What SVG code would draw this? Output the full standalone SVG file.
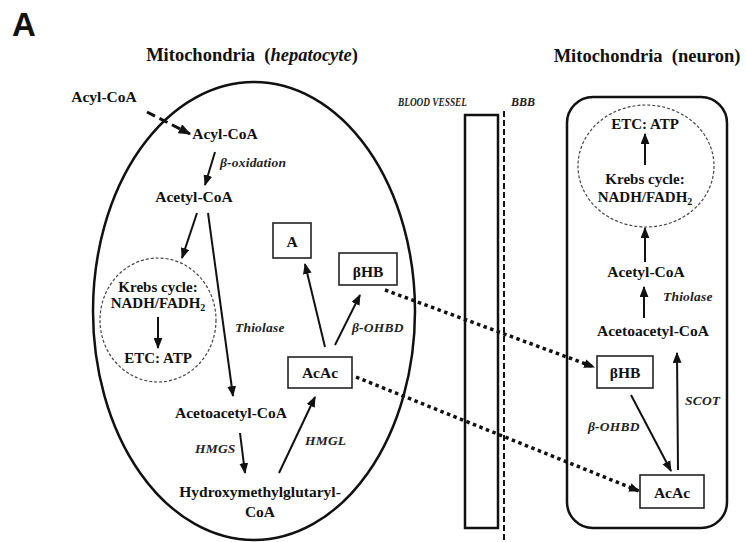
<svg xmlns="http://www.w3.org/2000/svg" width="746" height="542" viewBox="0 0 746 542">
<defs>
<style>
text{font-family:'Liberation Serif','Times New Roman',Times,'DejaVu Serif',serif}
.b{font-weight:bold;font-size:15.5px;fill:#111}
.k{font-weight:bold;font-size:15px;fill:#111}
.i{font-weight:bold;font-style:italic;font-size:13.5px;fill:#222;letter-spacing:0.2px}
.t{font-weight:bold;font-size:18.5px;fill:#111}
.c{text-anchor:middle}
.s{font-weight:bold;font-style:italic;font-size:11.5px;fill:#222}
.a{stroke:#111;stroke-width:2;fill:none;marker-end:url(#ah)}
.d{stroke:#111;stroke-width:3.5;fill:none;stroke-dasharray:3.5 3.5;marker-end:url(#ah)}
.box{fill:#fff;stroke:#222;stroke-width:1.6}
.dc{fill:none;stroke:#444;stroke-width:1.2;stroke-dasharray:3 2}
</style>
<marker id="ah" viewBox="0 0 10 8" refX="9" refY="4" markerWidth="11" markerHeight="9" markerUnits="userSpaceOnUse" orient="auto">
<path d="M0,0 L10,4 L0,8 Z" fill="#111"/>
</marker>
<marker id="ah2" viewBox="0 0 10 8" refX="9" refY="4" markerWidth="13" markerHeight="10" markerUnits="userSpaceOnUse" orient="auto">
<path d="M0,0 L10,4 L0,8 Z" fill="#111"/>
</marker>
</defs>
<rect width="746" height="542" fill="#fff"/>
<text x="12" y="36" style="font-family:'Liberation Sans',Arial,sans-serif" font-weight="bold" font-size="33" fill="#111">A</text>
<text class="t c" x="252" y="61">Mitochondria&#160;&#160;(<tspan font-style="italic">hepatocyte</tspan>)</text>
<text class="t c" x="647" y="62">Mitochondria&#160;&#160;(neuron)</text>

<g id="hepatocyte">
<ellipse cx="254" cy="311" rx="161" ry="229" fill="none" stroke="#111" stroke-width="2.5"/>
</g>
<g id="blood-vessel">
<rect x="465" y="115" width="33" height="413" fill="none" stroke="#111" stroke-width="2.5"/>
<text class="s" x="398" y="106" textLength="69" lengthAdjust="spacingAndGlyphs">BLOOD VESSEL</text>
</g>
<g id="bbb">
<line x1="504" y1="111" x2="504" y2="540" stroke="#111" stroke-width="2" stroke-dasharray="6 3"/>
<text class="s" x="511" y="106" textLength="24" lengthAdjust="spacingAndGlyphs">BBB</text>
</g>
<g id="neuron">
<rect x="567" y="97" width="160" height="431" rx="26" ry="26" fill="none" stroke="#111" stroke-width="2.5"/>
</g>

<g id="acyl-coa-out"><text class="b c" x="104" y="102">Acyl-CoA</text></g>
<g id="acyl-coa-in"><text class="b c" x="225" y="139">Acyl-CoA</text></g>
<g id="acetyl-coa-hep"><text class="b c" x="194" y="202">Acetyl-CoA</text></g>
<g id="krebs-hep">
<ellipse class="dc" cx="158" cy="320" rx="58" ry="62"/>
<text class="k c" x="158" y="292">Krebs cycle:</text>
<text class="k c" x="158" y="308">NADH/FADH<tspan font-size="10" dy="3">2</tspan></text>
<text class="k c" x="158" y="363">ETC: ATP</text>
</g>
<g id="a-box"><rect class="box" x="273" y="223" width="38" height="35"/><text class="b c" x="292" y="247">A</text></g>
<g id="bhb-hep"><rect class="box" x="339" y="253" width="58" height="32"/><text class="b c" x="368" y="277">βHB</text></g>
<g id="acac-hep"><rect class="box" x="288" y="357" width="64" height="31"/><text class="b c" x="320" y="378">AcAc</text></g>
<g id="acetoacetyl-hep"><text class="b c" x="231" y="418">Acetoacetyl-CoA</text></g>
<g id="hmg-coa"><text class="b c" x="260" y="497">Hydroxymethylglutaryl-</text><text class="b c" x="260" y="517">CoA</text></g>

<g id="krebs-neuron">
<ellipse class="dc" cx="646" cy="166" rx="68" ry="61"/>
<text class="k c" x="645" y="129">ETC: ATP</text>
<text class="k c" x="645" y="184">Krebs cycle:</text>
<text class="k c" x="645" y="202">NADH/FADH<tspan font-size="10" dy="3">2</tspan></text>
</g>
<g id="acetyl-coa-neuron"><text class="b c" x="646" y="277">Acetyl-CoA</text></g>
<g id="acetoacetyl-neuron"><text class="b c" x="653" y="336">Acetoacetyl-CoA</text></g>
<g id="bhb-neuron"><rect class="box" x="597" y="356" width="56" height="32"/><text class="b c" x="625" y="378">βHB</text></g>
<g id="acac-neuron"><rect class="box" x="640" y="475" width="64" height="33"/><text class="b c" x="672" y="498">AcAc</text></g>

<g id="connectors">
<line x1="147" y1="112" x2="190" y2="134" stroke="#111" stroke-width="3" stroke-dasharray="9 5" marker-end="url(#ah2)"/>
<line class="a" x1="215" y1="152" x2="205" y2="185"/>
<line class="a" x1="197" y1="213" x2="182" y2="258"/>
<line class="a" x1="208" y1="213" x2="233" y2="396"/>
<line class="a" x1="158" y1="317" x2="158" y2="348"/>
<line class="a" x1="240" y1="433" x2="245" y2="473"/>
<line class="a" x1="279" y1="473" x2="315" y2="397"/>
<line class="a" x1="325" y1="347" x2="305" y2="264"/>
<line class="a" x1="335" y1="345" x2="360" y2="295"/>
<line class="d" x1="385" y1="290" x2="594" y2="367"/>
<line class="d" x1="356" y1="377" x2="639" y2="491"/>
<line class="a" x1="631" y1="395" x2="671" y2="471"/>
<line class="a" x1="678" y1="470" x2="677" y2="353"/>
<line class="a" x1="644" y1="318" x2="644" y2="287"/>
<line class="a" x1="645" y1="262" x2="645" y2="228"/>
<line class="a" x1="645" y1="165" x2="645" y2="134"/>
</g>

<g id="labels">
<text class="i" x="220" y="167">β-oxidation</text>
<text class="i" x="235" y="332">Thiolase</text>
<text class="i" x="352" y="332">β-OHBD</text>
<text class="i" x="195" y="453">HMGS</text>
<text class="i" x="305" y="445">HMGL</text>
<text class="i" x="663" y="301">Thiolase</text>
<text class="i" x="588" y="431">β-OHBD</text>
<text class="i" x="685" y="405">SCOT</text>
</g>
</svg>
